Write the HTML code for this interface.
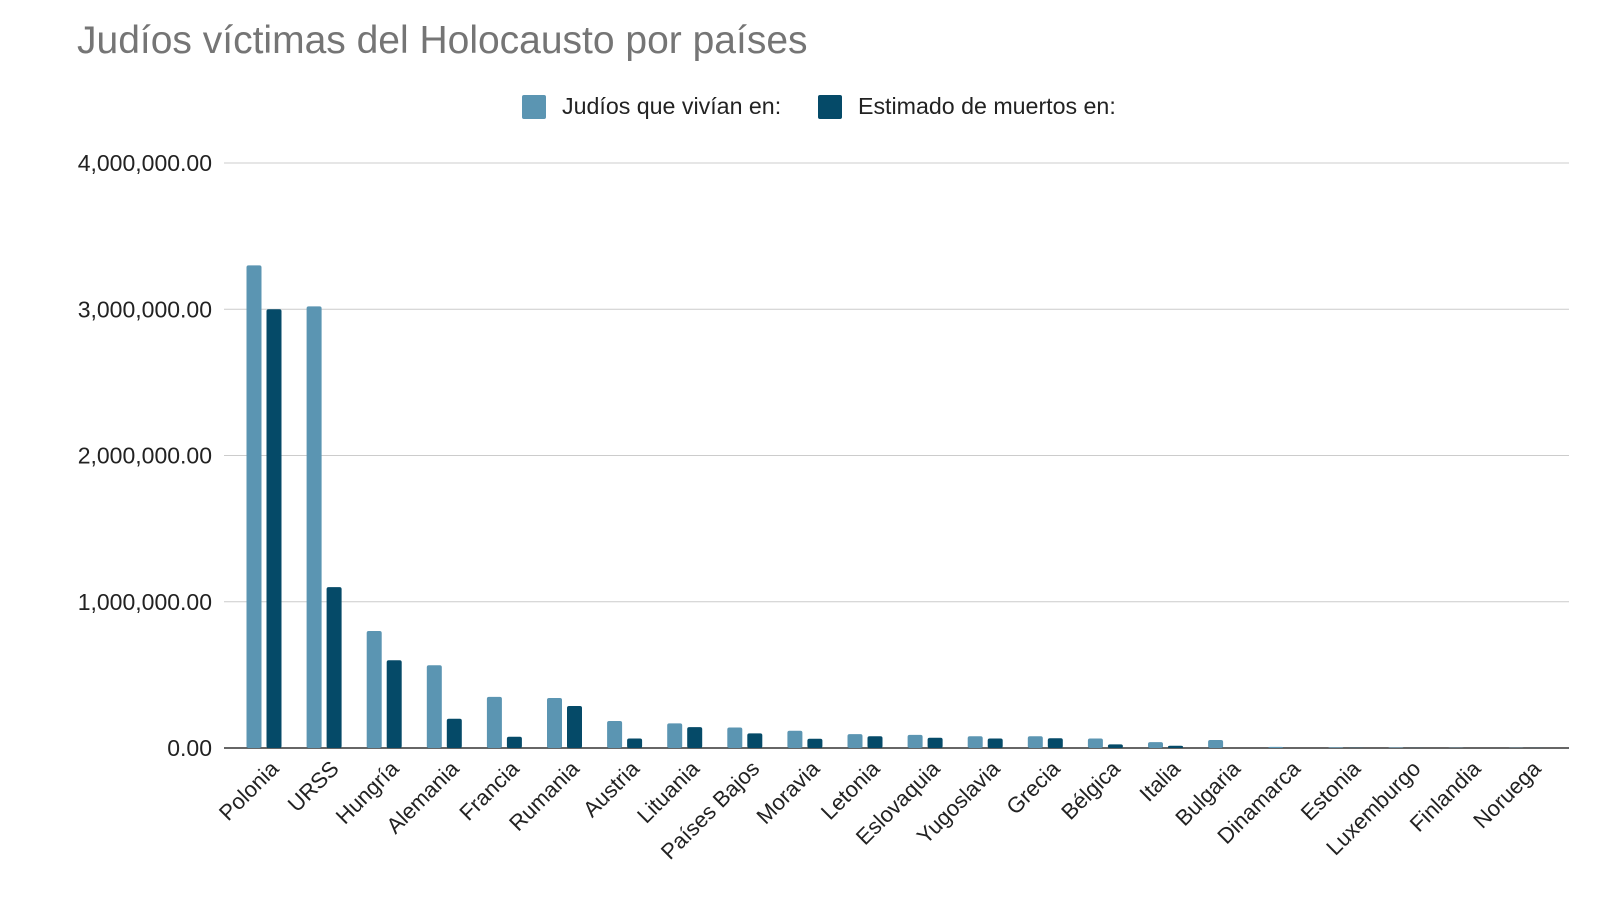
<!DOCTYPE html>
<html><head><meta charset="utf-8"><style>
body{margin:0;background:#fff;width:1600px;height:900px;overflow:hidden;font-family:"Liberation Sans",Arial,sans-serif}
</style></head><body>
<svg id="chart" width="1600" height="900" xmlns="http://www.w3.org/2000/svg">
<text x="77" y="53" font-size="39" fill="#757575">Judíos víctimas del Holocausto por países</text>
<g>
<rect x="522" y="95" width="24" height="24" rx="2" fill="#5b95b2"/>
<text x="562" y="114" font-size="23.2" fill="#222">Judíos que vivían en:</text>
<rect x="818" y="95" width="24" height="24" rx="2" fill="#054a68"/>
<text x="858" y="114" font-size="23.2" fill="#222">Estimado de muertos en:</text>
</g>
<g id="grid"></g><g id="bars"></g><g id="xl"></g>
</svg>
<script>
const categories=["Polonia","URSS","Hungría","Alemania","Francia","Rumania","Austria","Lituania","Países Bajos","Moravia","Letonia","Eslovaquia","Yugoslavia","Grecia","Bélgica","Italia","Bulgaria","Dinamarca","Estonia","Luxemburgo","Finlandia","Noruega"];
const living=[3300000,3020000,800000,566000,350000,342000,185000,168000,140000,118000,95000,90000,80000,80000,65000,40000,55000,8000,4500,3500,2000,1800];
const killed=[3000000,1100000,600000,200000,77000,287000,65000,143000,100000,63000,80000,70000,65000,67000,25000,15000,0,60,2000,1000,7,900];
const ticks=[0,1000000,2000000,3000000,4000000];
const tickLabels=["0.00","1,000,000.00","2,000,000.00","3,000,000.00","4,000,000.00"];
const NS="http://www.w3.org/2000/svg";
const x0=224,x1=1569,y0=748,yTop=163,maxV=4000000;
const y=v=>y0-(v/maxV)*(y0-yTop);
const firstC=264,step=60.1;
const xc=i=>firstC+step*i;
function mk(t,a,p){const e=document.createElementNS(NS,t);for(const k in a)e.setAttribute(k,a[k]);p.appendChild(e);return e;}
const grid=document.getElementById('grid'),bars=document.getElementById('bars'),xl=document.getElementById('xl');
ticks.forEach((t,i)=>{
 const l=mk('line',{x1:x0,x2:x1,y1:y(t),y2:y(t),stroke:i==0?'#333':'#ccc','stroke-width':i==0?1.5:1},grid);
 
 
 const tx=mk('text',{x:212,y:y(t)+8,'text-anchor':'end','font-size':23,fill:'#222'},grid);
 tx.textContent=tickLabels[i];
 
 
});
const bw=15;
categories.forEach((c,i)=>{
 const cx=xc(i);
 const h1=y0-y(living[i]);
 const b1=mk('rect',{x:cx-bw-2.5,y:y(living[i]),width:bw,height:h1,rx:2,fill:'#5b95b2'},bars);
 
 
 const h2=y0-y(killed[i]);
 const b2=mk('rect',{x:cx+2.5,y:y(killed[i]),width:bw,height:h2,rx:2,fill:'#054a68'},bars);
 
 
 const t=mk('text',{x:0,y:0,'text-anchor':'end','font-size':22,fill:'#222',transform:`translate(${cx+16},${y0+22}) rotate(-45)`},xl);
 t.textContent=c;
 
 
});
</script>
</body></html>
